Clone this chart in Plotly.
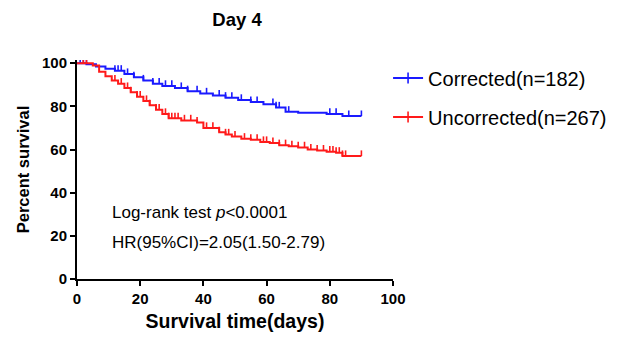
import numpy as np
import plotly.graph_objects as go

# ---- data ----
blue_times = [0, 3, 6, 9, 12, 15, 18, 21, 24, 27, 31, 35, 39, 43, 47, 51, 55, 59, 63, 66, 70, 79, 84, 90]
blue_surv = [100, 99.5, 98.5, 97.5, 96.5, 95, 93.5, 92, 90.5, 89.5, 88.5, 87, 86, 85, 84, 83, 82, 81,
             79.5, 77.5, 77, 76.5, 75.5, 75.5]
blue_censor = [1, 2, 3, 12, 13, 14, 16, 18, 21, 24, 26, 28, 30, 33, 35, 38, 41, 45, 47, 49, 52, 55,
               57, 62, 63, 64, 67, 80, 82, 86, 90]

red_times = [0, 5, 7, 9, 11, 13, 15, 17, 19, 21, 23, 25, 27, 29, 33, 38, 40, 45, 47, 49, 52, 55, 58,
             61, 64, 67, 70, 73, 76, 79, 82, 84, 90]
red_surv = [100, 99, 96, 94, 92, 90.5, 88.5, 86.5, 84.5, 82.5, 80.5, 78.5, 76.5, 74.5, 73.5, 72.5, 70,
            68, 67, 66, 65, 64.5, 63.5, 63, 62, 61.5, 61, 60, 59.5, 59, 58.5, 57, 57]
red_censor = [2, 3, 12, 14, 16, 17, 19, 20, 22, 23, 25, 26, 28, 29, 30, 31, 32, 34, 36, 38, 41, 43, 45,
              47, 48, 50, 53, 55, 57, 59, 60, 62, 64, 66, 68, 70, 72, 74, 76, 78, 80, 81, 82, 83, 84,
              85, 90]

series_names = ["Corrected(n=182)", "Uncorrected(n=267)"]
colors = ["#1a1aff", "#ff1a1a"]

x_ticks = [0, 20, 40, 60, 80, 100]
y_ticks = [0, 20, 40, 60, 80, 100]


def step_value(times, surv, t):
    idx = np.searchsorted(times, t, side="right") - 1
    return np.asarray(surv)[idx]


fig = go.Figure()
series = [(blue_times, blue_surv, blue_censor), (red_times, red_surv, red_censor)]
for i, ((tt, ss, cc), name, col) in enumerate(zip(series, series_names, colors)):
    fig.add_trace(go.Scatter(x=tt, y=ss, mode="lines", line=dict(color=col, width=2, shape="hv"),
                             showlegend=False, hoverinfo="skip"))
    # censor ticks drawn upward from the curve
    fig.add_trace(go.Scatter(x=cc, y=step_value(tt, ss, cc), mode="markers",
                             marker=dict(size=0.1, color=col, opacity=0),
                             error_y=dict(type="constant", value=2.6, symmetric=False, valueminus=0,
                                          width=0, thickness=1.6, color=col),
                             showlegend=False, hoverinfo="skip"))
    fig.add_trace(go.Scatter(x=[None], y=[None], mode="lines+markers", name=name,
                             line=dict(color=col, width=2),
                             marker=dict(symbol="line-ns", size=8, line=dict(color=col, width=1.6)),
                             legend="legend" if i == 0 else "legend2"))

font_family = "Liberation Sans, Arial, sans-serif"

fig.update_layout(
    width=624, height=343,
    margin=dict(l=77, r=227, t=60, b=64),
    paper_bgcolor="white", plot_bgcolor="white",
    font=dict(family=font_family, color="black"),
    title=dict(text="<b>Day 4</b>", x=(77 + 160) / 624, xanchor="center", y=1 - 20 / 343, yanchor="middle",
               font=dict(size=18.5, color="black")),
    xaxis=dict(range=[0, 100], tickvals=x_ticks, ticktext=[f"<b>{v}</b>" for v in x_ticks],
               showgrid=False, zeroline=False, showline=True, linecolor="black", linewidth=2,
               ticks="outside", ticklen=5, tickwidth=2, tickcolor="black",
               tickfont=dict(size=15, color="black"),
               title=dict(text="<b>Survival time(days)</b>", font=dict(size=19.5, color="black"), standoff=8)),
    yaxis=dict(range=[0, 101.5], tickvals=y_ticks, ticktext=[f"<b>{v}</b>" for v in y_ticks],
               showgrid=False, zeroline=False, showline=True, linecolor="black", linewidth=2,
               ticks="outside", ticklen=5, tickwidth=2, tickcolor="black",
               tickfont=dict(size=15, color="black"),
               title=dict(text="<b>Percent survival</b>", font=dict(size=16.5, color="black"), standoff=8)),
    legend=dict(x=(392 - 77) / 320, y=1 - (78 - 60) / 219, xanchor="left", yanchor="middle",
                font=dict(size=20, color="black"), bgcolor="rgba(0,0,0,0)", itemwidth=30),
    legend2=dict(x=(392 - 77) / 320, y=1 - (117 - 60) / 219, xanchor="left", yanchor="middle",
                 font=dict(size=20, color="black"), bgcolor="rgba(0,0,0,0)", itemwidth=30),
    showlegend=True,
)

fig.add_annotation(x=10.3, y=31, xref="x", yref="y", xanchor="left", yanchor="middle", showarrow=False,
                   text="Log-rank test <i>p</i><0.0001", font=dict(size=17, color="black"))
fig.add_annotation(x=10.3, y=16.7, xref="x", yref="y", xanchor="left", yanchor="middle", showarrow=False,
                   text="HR(95%CI)=2.05(1.50-2.79)", font=dict(size=17, color="black"))

fig.write_html("out.html")
